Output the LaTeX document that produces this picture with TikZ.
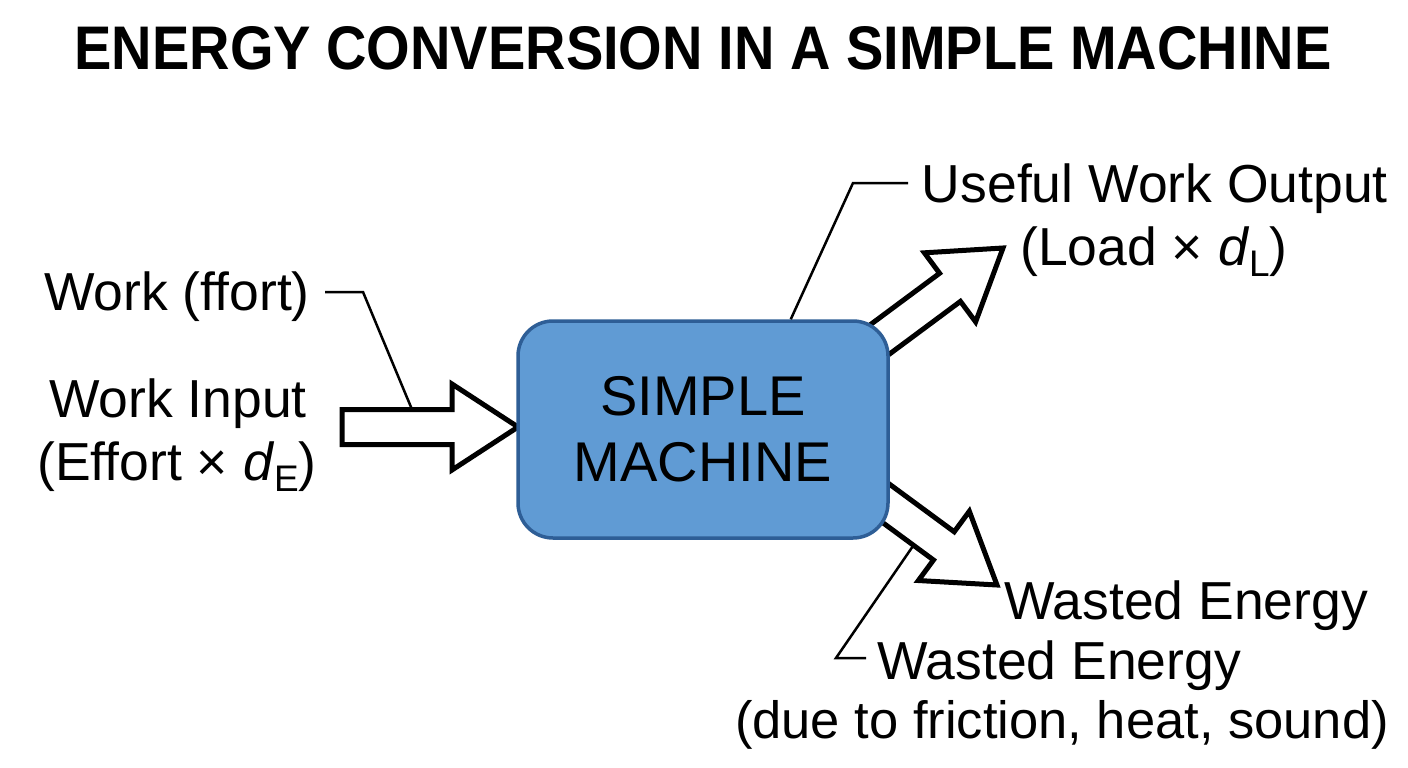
\documentclass[tikz,border=0pt]{standalone}
\usepackage{fontspec}
\setmainfont{Liberation Sans}
\usetikzlibrary{calc}
\pgfdeclarelayer{bg}
\pgfdeclarelayer{arrowlayer}
\pgfsetlayers{bg,arrowlayer,main}
\definecolor{boxfill}{RGB}{96,155,212}
\definecolor{boxedge}{RGB}{46,94,150}
\tikzset{
  lbl/.style={inner sep=0pt, font=\fontsize{53.5}{64}\selectfont},
  lblsmall/.style={inner sep=0pt, font=\fontsize{52.5}{64}\selectfont},
  leader/.style={line width=2.5pt, line join=miter},
  barrow/.style={draw=black, fill=white, line width=5pt, line join=miter, miter limit=10},
  machine/.style={draw=boxedge, line width=3.5pt, fill=boxfill, rounded corners=35pt,
    minimum width=370pt, minimum height=217pt, inner sep=0pt, align=center,
    font=\fontsize{56}{66}\selectfont}
}
\newcommand\mysub[1]{\raisebox{-0.22em}{\fontsize{37}{40}\selectfont #1}}
% block arrow from #1 (start) to #2 (tip); #3 = unique name
\newcommand\blockarrow[3]{%
  \coordinate (#3-neck) at ($(#2)!66pt!(#1)$);
  \draw[barrow] ($(#1)!17.5pt!90:(#2)$) -- ($(#3-neck)!17.5pt!-90:(#1)$)
    -- ($(#3-neck)!43pt!-90:(#1)$) -- (#2) -- ($(#3-neck)!43pt!90:(#1)$)
    -- ($(#3-neck)!17.5pt!90:(#1)$) -- ($(#1)!17.5pt!-90:(#2)$) -- cycle;
}
\begin{document}
\begin{tikzpicture}[x=1pt,y=-1pt]
\begin{pgfonlayer}{bg}
  \fill[white] (0,0) rectangle (1408,768);
\end{pgfonlayer}
\useasboundingbox (0,0) rectangle (1408,768);

% title
\node[inner sep=0pt, anchor=base, font=\bfseries\fontsize{56}{60}\selectfont] (title) at (703,70)
  {\scalebox{1}[1.1]{ENERGY CONVERSION IN A SIMPLE MACHINE}};

% machine
\node[machine] (box) at (703,429.5) {SIMPLE\\MACHINE};

% block arrows
\coordinate (inA) at (342,427);
\coordinate (inB) at (518,427);
\coordinate (outA) at (840,369);
\coordinate (outB) at (1003,248);
\coordinate (wasteA) at (838,468);
\coordinate (wasteB) at (997,585);
\begin{pgfonlayer}{arrowlayer}
  \blockarrow{inA}{inB}{ina}
  \blockarrow{outA}{outB}{outa}
  \blockarrow{wasteA}{wasteB}{wastea}
\end{pgfonlayer}

% labels
\node[lbl, anchor=base] (wf) at (177,310) {Work (ffort)};
\node[lbl, anchor=base] (wi) at (178,417) {Work Input};
\node[lbl, anchor=base] (wef) at (177,480) {(Effort × \textit{d}\mysub{E})};
\node[lbl, anchor=base east] (uw) at (1388,202) {Useful Work Output};
\node[lbl, anchor=base west] (ld) at (1020,265) {(Load × \textit{d}\mysub{L})};
\node[lbl, anchor=base west] (we1) at (1004,619) {Wasted Energy};
\node[lbl, anchor=base west] (we2) at (877,679) {Wasted Energy};
\node[lblsmall, anchor=base east] (due) at (1389,738) {(due to friction, heat, sound)};

% leaders
\coordinate (wfL) at (325,292);
\coordinate (wfK) at (363,292);
\coordinate (wfE) at (412,409.5);
\draw[leader] (wfL) -- (wfK) -- (wfE);
\coordinate (uwL) at (908,183);
\coordinate (uwK) at (853,183);
\draw[leader] (uwL) -- (uwK) -- ($(box.north west)!0.735!(box.north east)$);
\coordinate (weL) at (866,658);
\coordinate (weK) at (836,658);
\coordinate (weE) at (913,546);
\draw[leader] (weL) -- (weK) -- (weE);
\end{tikzpicture}
\end{document}
